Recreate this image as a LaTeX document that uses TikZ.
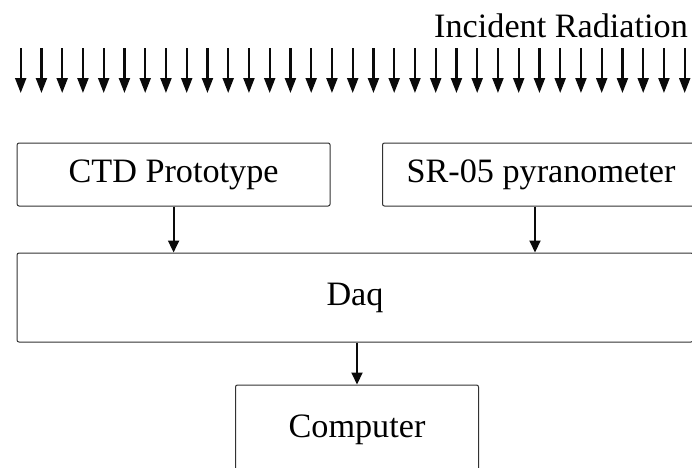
\documentclass[tikz,border=0pt]{standalone}
\usepackage{fontspec}
\setmainfont{Liberation Serif}
\usepackage{tikz}
\usetikzlibrary{arrows.meta, positioning, calc}
\definecolor{mydark}{RGB}{10,10,10}
\definecolor{myframe}{RGB}{50,50,50}
\tikzset{
  block/.style={rectangle, draw=myframe, fill=white, inner sep=0pt,
    align=center, rounded corners=2pt, line width=1pt,
    font=\fontsize{34.2}{40}\selectfont},
  arrow/.style={-{Triangle[length=12pt, width=11pt]}, line width=2pt, color=mydark},
  ray/.style={-{Triangle[length=15pt, width=11pt]}, line width=2.1pt, color=mydark}
}

\begin{document}
\begin{tikzpicture}[x=1pt, y=-1pt]
  \useasboundingbox (0,0) rectangle (692,467);
  \clip (0,0) rectangle (692,467);

  % Incident radiation
  \node[anchor=base east, inner sep=0pt, font=\fontsize{34.2}{40}\selectfont] (label) at (688,37) {Incident Radiation};
  \foreach \i in {0,...,32}{
    \coordinate (r\i top) at (20.7+20.75*\i,48);
    \coordinate (r\i tip) at (20.7+20.75*\i,93);
    \draw[ray] (r\i top) -- (r\i tip);
  }

  % Sensors
  \node[block, minimum width=313pt, minimum height=63pt] (ctd) at (173.6,174.5) {CTD Prototype};
  \node[block, minimum width=317pt, minimum height=63pt] (pyr) at (541,174.5) {SR-05 pyranometer};

  % Acquisition and computer
  \node[block, minimum width=676pt, minimum height=89pt] (daq) at (355,297.5) {Daq};
  \node[block, minimum width=243pt, minimum height=89pt] (comp) at (357,429.5) {Computer};

  % Connections
  \draw[arrow] (ctd.south) -- (ctd.south |- daq.north);
  \draw[arrow] ([xshift=-6pt]pyr.south) -- ([xshift=-6pt]pyr.south |- daq.north);
  \draw[arrow] (daq.south -| comp.north) -- (comp.north);
\end{tikzpicture}
\end{document}
